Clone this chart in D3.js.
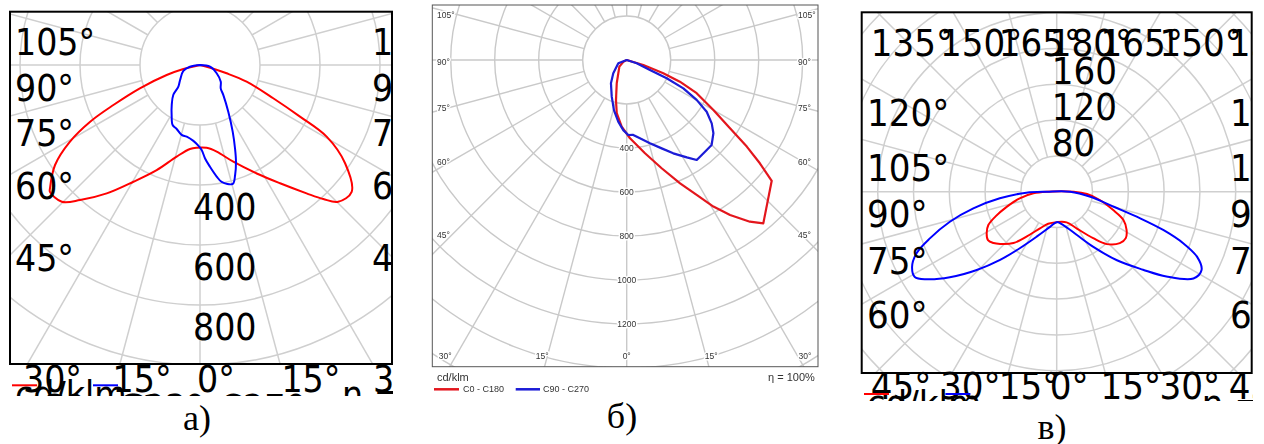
<!DOCTYPE html>
<html>
<head>
<meta charset="utf-8">
<script src="https://cdn.jsdelivr.net/npm/d3@7"></script>
<style>
  html, body { margin: 0; padding: 0; background: #fff; overflow: hidden; }
</style>
</head>
<body>
<script>
// ---------------------------------------------------------------
// Luminous intensity distributions, cd/klm.
// γ is signed: negative = left half-plane, positive = right half-plane,
// 0° points straight down.
// ---------------------------------------------------------------

// Panel а
const aC0Gamma = [-90, -76.5, -73.3, -68.8, -65.2, -62.7, -59.5, -55.4, -50.6, -49.8, -45.3, -41.6, -36, -29.7, -22.4, -14.3, -6.8, -2.3, 4.6, 10.9, 19, 27.6, 34.1, 39.7, 42.6, 45.3, 50.1, 55.9, 60.5, 62.7, 65.6, 70.3, 72.7, 75, 90];
const aC0Cd    = [0, 57, 116, 215, 318, 412, 503, 587, 647, 655, 648, 602, 529, 448, 379, 315, 282, 276, 277, 294, 341, 408, 476, 556, 607, 648, 659, 584, 485, 375, 268, 165, 93, 35, 0];
const aC90Gamma = [-90, -80.4, -70.2, -53.1, -45, -41.7, -35.3, -29.5, -24.5, -20, -14.7, -10.5, -5, -1.2, 1.1, 3.1, 5.6, 8.5, 10.5, 15.4, 17.7, 20.4, 22.8, 26.1, 31.2, 37.8, 41.6, 51.1, 63.6, 80.4, 90];
const aC90Cd    = [0, 34, 59, 83, 102, 134, 163, 192, 220, 227, 241, 243, 254, 269, 283, 312, 341, 376, 396, 411, 385, 344, 301, 248, 182, 127, 104, 89, 62, 34, 0];

// Panel б
const bC0Gamma = [-90, -63, -47.8, -23.2, -15, -10.6, -4.3, 2.4, 11.1, 17.9, 23.4, 27.4, 30.6, 33.7, 37.3, 39.9, 50.2, 52.2, 54.2, 56.5, 60, 64.6, 67.8, 70, 73.2, 90];
const bC0Cd    = [0, 17, 45, 115, 188, 246, 304, 356, 432, 517, 611, 691, 774, 847, 924, 968, 858, 766, 673, 563, 455, 352, 261, 177, 79, 0];
const bC90Gamma = [-90, -68.6, -45.2, -34, -22.2, -14.3, -7.8, -2.8, 1.2, 5, 9.6, 15.6, 21.6, 26.5, 31.7, 35, 40.5, 45, 49.8, 53.3, 57.1, 60.3, 63.4, 65.4, 66.8, 71.7, 90];
const bC90Cd    = [0, 41, 86, 128, 180, 235, 283, 319, 341, 342, 361, 393, 432, 474, 520, 555, 548, 546, 516, 482, 433, 366, 288, 200, 115, 48, 0];

// Panel в
const cC0Gamma = [-90, -86.1, -79.8, -73.3, -67.9, -64, -59.3, -54.8, -50.9, -47.3, -40.1, -33.7, -24.5, -14.9, 0, 17.9, 28.7, 38.1, 43.7, 50.8, 56.1, 61.3, 67, 72.1, 79.1, 85.6, 90];
const cC0Cd    = [11, 26, 42, 58, 74, 85, 91, 94, 91, 86, 75, 60, 45, 37, 34, 36, 47, 66, 81, 91, 93, 89, 81, 66, 49, 34, 19];
const cC90Gamma = [-90, -88.1, -83.4, -78.7, -74.3, -69.8, -66.3, -62.6, -59, -56, -51.3, -45.6, -39.7, -33, -24, -10.8, 0, 11.2, 24.8, 33.6, 41.3, 47.9, 52.3, 57.6, 61.6, 65.1, 67.8, 70.2, 72.3, 75.2, 81.5, 90];
const cC90Cd    = [11, 34, 64, 95, 124, 151, 171, 182, 185, 175, 153, 125, 99, 75, 55, 40, 34, 38, 53, 74, 102, 130, 155, 181, 184, 173, 153, 127, 98, 66, 38, 15];

// Tick labels
const aRingTicks = [400, 600, 800];
const bRingTicks = [400, 600, 800, 1000, 1200];
const cRingTicks = [80, 120, 160];
const halfSideAngles = [45, 60, 75, 90, 105];
const halfBottomAngles = [-30, -15, 0, 15, 30];
const fullSideAngles = [60, 75, 90, 105, 120];
const fullBottomAngles = [-45, -30, -15, 0, 15, 30, 45];
const fullTopAngles = [-135, -150, -165, 180, 165, 150, 135];

// Legend and captions
const seriesNames = ["C0 - C180", "C90 - C270"];
const unitLabel = "cd/klm";
const efficiencyLabel = "η = 100%";
const captions = ["а)", "б)", "в)"];

// ---------------------------------------------------------------
const W = 1264, H = 444;
const svg = d3.select("body").append("svg")
  .attr("width", W).attr("height", H)
  .style("display", "block");
svg.append("rect").attr("width", W).attr("height", H).attr("fill", "#fff");
const defs = svg.append("defs");
defs.append("filter").attr("id", "soft")
  .attr("x", "-5%").attr("y", "-5%").attr("width", "110%").attr("height", "110%")
  .append("feGaussianBlur").attr("stdDeviation", 0.45);

const rad = d => d * Math.PI / 180;
const deg = a => Math.abs(a) + "°";

function makeClip(id, x0, y0, x1, y1) {
  defs.append("clipPath").attr("id", id).append("rect")
    .attr("x", x0).attr("y", y0).attr("width", x1 - x0).attr("height", y1 - y0);
  return `url(#${id})`;
}

function drawPanel(p) {
  const f = p.frame;
  const root = svg.append("g").attr("clip-path", makeClip(p.id + "-all", ...p.clip));
  if (p.filter) root.attr("filter", p.filter);

  const r = d3.scaleLinear().domain([0, p.ringStep]).range([0, p.ringPx]);
  const far = d3.max([[f.x0, f.y0], [f.x1, f.y0], [f.x0, f.y1], [f.x1, f.y1]],
    c => Math.hypot(c[0] - p.cx, c[1] - p.cy));
  const rings = d3.range(p.ringStep, r.invert(far) + p.ringStep, p.ringStep);

  const plot = root.append("g").attr("clip-path", makeClip(p.id + "-plot", f.x0, f.y0, f.x1, f.y1));

  // polar grid
  const grid = plot.append("g").attr("fill", "none")
    .attr("stroke", p.gridColor).attr("stroke-width", p.gridWidth);
  grid.selectAll("circle").data(rings).join("circle")
    .attr("cx", p.cx).attr("cy", p.cy).attr("r", d => r(d));
  const r0 = r(p.ringStep);
  grid.selectAll("line").data(d3.range(0, 360, 15)).join("line")
    .attr("x1", a => p.cx + r0 * Math.sin(rad(a)))
    .attr("y1", a => p.cy + r0 * Math.cos(rad(a)))
    .attr("x2", a => p.cx + (far + 10) * Math.sin(rad(a)))
    .attr("y2", a => p.cy + (far + 10) * Math.cos(rad(a)));

  // intensity curves
  const line = d3.lineRadial()
    .angle(d => Math.PI - rad(d[0]))
    .radius(d => r(d[1]))
    .curve(p.curve);
  p.series.forEach(s => {
    plot.append("path")
      .attr("transform", `translate(${p.cx},${p.cy})`)
      .attr("d", line(d3.zip(s.gamma, s.cd)) + (p.closeWithZ ? "Z" : ""))
      .attr("fill", "none")
      .attr("stroke", s.color)
      .attr("stroke-width", p.curveWidth)
      .attr("stroke-linejoin", "round");
  });

  // frame
  root.append("rect")
    .attr("x", f.x0).attr("y", f.y0)
    .attr("width", f.x1 - f.x0).attr("height", f.y1 - f.y0)
    .attr("fill", "none").attr("stroke", p.frameColor).attr("stroke-width", p.frameWidth);

  // angle and intensity labels
  const lab = root.append("g")
    .attr("font-family", p.font).attr("font-size", p.fs).attr("fill", p.textColor);
  if (p.halo) {
    lab.attr("stroke", "#fff").attr("stroke-width", p.halo)
      .attr("paint-order", "stroke").attr("stroke-linejoin", "round");
  }
  const edgeX = (a, dy) => Math.max(f.x0 + p.edgeInset,
    Math.min(f.x1 - p.edgeInset, p.cx + dy * Math.tan(rad(a))));
  p.sideAngles.forEach(a => {
    const y = p.cy + p.sideRefDx / Math.tan(rad(a)) + p.sideBase;
    lab.append("text").attr("x", p.leftTextX).attr("y", y).text(deg(a));
    lab.append("text").attr("x", p.rightTextX).attr("y", y).text(deg(a));
  });
  p.bottomAngles.forEach(a => {
    lab.append("text")
      .attr("x", edgeX(a, p.bottomRefDy) + p.edgeDx)
      .attr("y", p.bottomBase)
      .attr("text-anchor", p.edgeAnchor)
      .text(deg(a));
  });
  (p.topAngles || []).forEach(a => {
    lab.append("text")
      .attr("x", edgeX(a, -p.topRefDy) + p.edgeDx)
      .attr("y", p.topBase)
      .attr("text-anchor", p.edgeAnchor)
      .text(deg(a));
  });
  p.ringTicks.forEach(v => {
    lab.append("text")
      .attr("x", p.cx + p.ringDx)
      .attr("y", p.cy + p.ringDir * r(v) + p.ringBase)
      .attr("text-anchor", p.ringAnchor)
      .text(v);
  });

  // legend
  const L = p.legend;
  const lg = root.append("g").attr("font-family", p.font).attr("fill", p.textColor);
  lg.append("text").attr("x", L.titleX).attr("y", L.titleY).attr("font-size", L.fsTitle).text(unitLabel);
  lg.append("text").attr("x", L.effX).attr("y", L.titleY).attr("font-size", L.fsTitle).text(efficiencyLabel);
  p.series.forEach((s, i) => {
    const e = L.entries[i];
    lg.append("line").attr("x1", e.x0).attr("x2", e.x1).attr("y1", L.lineY).attr("y2", L.lineY)
      .attr("stroke", s.color).attr("stroke-width", L.lineWidth);
    lg.append("text").attr("x", e.tx).attr("y", L.entryY).attr("font-size", L.fsEntry).text(s.name);
  });
}

// Panel а
drawPanel({
  id: "pa", clip: [0, 0, 393, 396],
  frame: { x0: 10, y0: 11.7, x1: 392, y1: 364 },
  cx: 200, cy: 65, ringStep: 200, ringPx: 60,
  gridColor: "#cfcfcf", gridWidth: 1.5, frameColor: "#000", frameWidth: 2,
  font: "DejaVu Sans Condensed", fs: 37, textColor: "#000",
  curve: d3.curveCatmullRom.alpha(0.5), closeWithZ: true, curveWidth: 2,
  series: [
    { name: seriesNames[0], gamma: aC0Gamma, cd: aC0Cd, color: "#ff0000" },
    { name: seriesNames[1], gamma: aC90Gamma, cd: aC90Cd, color: "#0000ff" }
  ],
  sideAngles: halfSideAngles, sideRefDx: 170, sideBase: 35.5, leftTextX: 15, rightTextX: 372,
  bottomAngles: halfBottomAngles, bottomRefDy: 315, edgeInset: 16, edgeDx: -3, edgeAnchor: "start", bottomBase: 392,
  ringTicks: aRingTicks, ringDir: 1, ringDx: -7, ringBase: 35, ringAnchor: "start",
  legend: {
    titleX: 15, titleY: 408, effX: 342, fsTitle: 37, fsEntry: 37,
    lineY: 385.3, lineWidth: 2, entryY: 420.5,
    entries: [{ x0: 12, x1: 37, tx: 41 }, { x0: 93, x1: 118, tx: 121 }]
  }
});

// Panel б
drawPanel({
  id: "pb", clip: [425, 0, 826, 400], filter: "url(#soft)",
  frame: { x0: 432.3, y0: 5, x1: 818, y1: 366.7 },
  cx: 626.7, cy: 60, ringStep: 200, ringPx: 44,
  gridColor: "#c9c9c9", gridWidth: 1.4, frameColor: "#555", frameWidth: 1,
  font: "Liberation Sans", fs: 8.5, textColor: "#333", halo: 3,
  curve: d3.curveLinear, closeWithZ: true, curveWidth: 2.2,
  series: [
    { name: seriesNames[0], gamma: bC0Gamma, cd: bC0Cd, color: "#e3161d" },
    { name: seriesNames[1], gamma: bC90Gamma, cd: bC90Cd, color: "#1a1ad6" }
  ],
  sideAngles: halfSideAngles, sideRefDx: 173.5, sideBase: 4.5, leftTextX: 437, rightTextX: 798,
  bottomAngles: halfBottomAngles, bottomRefDy: 315, edgeInset: 13, edgeDx: 0, edgeAnchor: "middle", bottomBase: 359,
  ringTicks: bRingTicks, ringDir: 1, ringDx: 0, ringBase: 3, ringAnchor: "middle",
  legend: {
    titleX: 437, titleY: 380.5, effX: 768, fsTitle: 11, fsEntry: 9,
    lineY: 389.3, lineWidth: 2.5, entryY: 392.3,
    entries: [{ x0: 434, x1: 459, tx: 463 }, { x0: 515.7, x1: 540, tx: 543 }]
  }
});

// Panel в
drawPanel({
  id: "pc", clip: [850, 0, 1253, 401],
  frame: { x0: 861.7, y0: 12.3, x1: 1251.7, y1: 373 },
  cx: 1056.7, cy: 191.7, ringStep: 40, ringPx: 35.8,
  gridColor: "#cfcfcf", gridWidth: 1.5, frameColor: "#000", frameWidth: 2,
  font: "DejaVu Sans Condensed", fs: 38, textColor: "#000",
  curve: d3.curveCatmullRomClosed.alpha(0.5), closeWithZ: false, curveWidth: 2,
  series: [
    { name: seriesNames[0], gamma: cC0Gamma, cd: cC0Cd, color: "#ff0000" },
    { name: seriesNames[1], gamma: cC90Gamma, cd: cC90Cd, color: "#0000ff" }
  ],
  sideAngles: fullSideAngles, sideRefDx: 175, sideBase: 35.7, leftTextX: 867, rightTextX: 1230,
  bottomAngles: fullBottomAngles, bottomRefDy: 190, edgeInset: 16, edgeDx: -7, edgeAnchor: "start", bottomBase: 399.4,
  topAngles: fullTopAngles, topRefDy: 190, topBase: 56,
  ringTicks: cRingTicks, ringDir: -1, ringDx: -5, ringBase: 35.4, ringAnchor: "start",
  legend: {
    titleX: 866.7, titleY: 417, effX: 1201.7, fsTitle: 38, fsEntry: 38,
    lineY: 394, lineWidth: 2, entryY: 430,
    entries: [{ x0: 864, x1: 889, tx: 893 }, { x0: 945.4, x1: 970.4, tx: 973 }]
  }
});

// Captions under the panels
const captionPos = [[197, 430], [622, 428], [1052, 439]];
svg.append("g").attr("font-family", "Liberation Serif").attr("font-size", 36)
  .attr("text-anchor", "middle").attr("fill", "#000")
  .selectAll("text").data(captions).join("text")
  .attr("x", (d, i) => captionPos[i][0]).attr("y", (d, i) => captionPos[i][1])
  .text(d => d);
</script>
</body>
</html>
